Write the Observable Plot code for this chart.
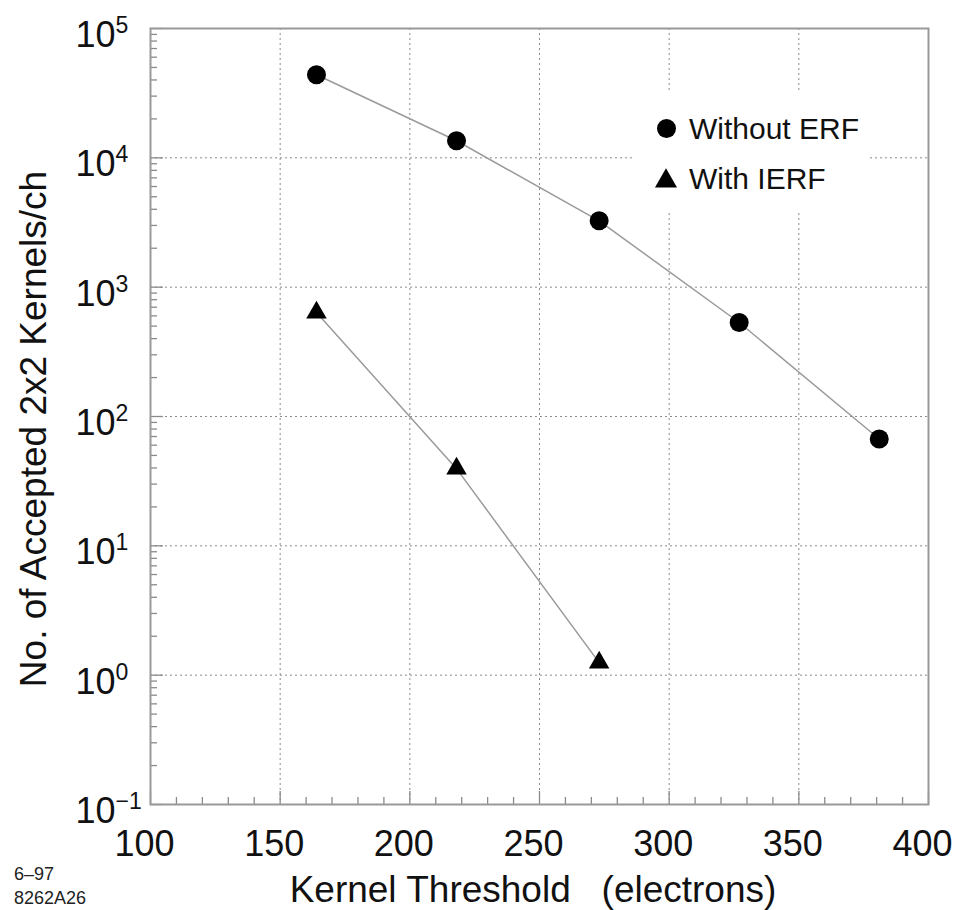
<!DOCTYPE html>
<html>
<head>
<meta charset="utf-8">
<script src="https://cdn.jsdelivr.net/npm/d3@7"></script>
<script src="https://cdn.jsdelivr.net/npm/@observablehq/plot@0.6"></script>
<style>
  html, body { margin: 0; padding: 0; background: #fff; }
  svg text { font-family: "Liberation Sans", Arial, Helvetica, sans-serif; }
</style>
</head>
<body>
<div id="chart"></div>
<script>
// ---- data ----
const thresholdsERF = [164, 218, 273, 327, 381];
const withoutERF = [43900, 13550, 3260, 533, 67];
const thresholdsIERF = [164, 218, 273];
const withIERF = [637, 39.5, 1.25];

const xMajor = [100, 150, 200, 250, 300, 350, 400];
const xMinor = [110,120,130,140,160,170,180,190,210,220,230,240,260,270,280,290,310,320,330,340,360,370,380,390];
const yMajor = [1e-1, 1e0, 1e1, 1e2, 1e3, 1e4, 1e5];
const yMinorMult = [2, 3, 4, 5, 6, 7, 8, 9];
const yMinor = [];
[-1, 0, 1, 2, 3, 4].forEach(k => yMinorMult.forEach(m => yMinor.push(m * Math.pow(10, k))));

const xLabel = "Kernel Threshold\u00a0\u00a0\u00a0(electrons)";
const yLabel = "No. of Accepted 2x2 Kernels/ch";
const legendLabels = ["Without ERF", "With IERF"];
const stampLines = ["6\u201397", "8262A26"];

const erfRows = thresholdsERF.map((t, i) => ({t, n: withoutERF[i]}));
const ierfRows = thresholdsIERF.map((t, i) => ({t, n: withIERF[i]}));

const FONT = '"Liberation Sans", Arial, Helvetica, sans-serif';
const gridStyle = {stroke: "#8a8a8a", strokeOpacity: 1, strokeDasharray: "2,3", strokeWidth: 1};
const tickStyle = {stroke: "#8a8a8a", strokeWidth: 1.3, tickFormat: () => "", label: null};

const svg = Plot.plot({
  width: 958,
  height: 910,
  marginLeft: 150,
  marginRight: 30,
  marginTop: 28,
  marginBottom: 106,
  style: {fontFamily: FONT, background: "#fff", color: "#111"},
  x: {domain: [100, 400], label: null},
  y: {type: "log", domain: [0.1, 1e5], label: null},
  marks: [
    Plot.gridX(xMajor.slice(1, -1), gridStyle),
    Plot.gridY(yMajor.slice(1, -1), gridStyle),
    Plot.axisX(xMinor, {...tickStyle, tickSize: -7}),
    Plot.axisX(xMajor, {...tickStyle, tickSize: -13}),
    Plot.axisX(xMajor, {tickSize: 0, tickPadding: 26, fontSize: 36, dx: -6, label: null, fill: "#111"}),
    Plot.axisY(yMinor, {...tickStyle, tickSize: -7}),
    Plot.axisY(yMajor, {...tickStyle, tickSize: -13}),
    Plot.frame({stroke: "#999", strokeWidth: 2}),
    Plot.line(erfRows, {x: "t", y: "n", stroke: "#9a9a9a", strokeWidth: 1.5}),
    Plot.line(ierfRows, {x: "t", y: "n", stroke: "#9a9a9a", strokeWidth: 1.5}),
    Plot.dot(erfRows, {x: "t", y: "n", symbol: "circle", r: 9.5, fill: "#000"}),
    Plot.dot(ierfRows, {x: "t", y: "n", symbol: "triangle", r: 7.6, fill: "#000"}),
    Plot.text(yMajor, {
      y: d => d,
      text: d => { const e = Math.round(Math.log10(d)); return "10^" + (e < 0 ? "\u2212" + (-e) : e); },
      frameAnchor: "left", textAnchor: "start", dx: -75, dy: 7, fontSize: 36, fill: "#111",
      ariaLabel: "ytick-label"
    })
  ]
});

document.getElementById("chart").appendChild(svg);
const s = d3.select(svg);

// superscript exponents on y tick labels
s.selectAll("text").each(function() {
  const t = this.textContent;
  if (t.startsWith("10^")) {
    const exp = t.slice(3);
    const el = d3.select(this);
    el.text("");
    el.append("tspan").text("10");
    el.append("tspan").attr("dy", -14).attr("font-size", 23).text(exp);
  }
});

// axis titles
s.append("text")
  .attr("x", 533).attr("y", 902)
  .attr("text-anchor", "middle")
  .attr("font-size", 37).attr("fill", "#111")
  .text(xLabel);
s.append("text")
  .attr("transform", "translate(46,429) rotate(-90)")
  .attr("text-anchor", "middle")
  .attr("font-size", 37).attr("fill", "#111")
  .text(yLabel);

// stamp at bottom left
s.append("text").attr("x", 14).attr("y", 880).attr("text-anchor", "start").attr("font-size", 18).attr("fill", "#222").text(stampLines[0]);
s.append("text").attr("x", 14).attr("y", 904).attr("text-anchor", "start").attr("font-size", 18).attr("fill", "#222").text(stampLines[1]);

// legend
const lg = s.append("g");
lg.append("rect").attr("x", 632).attr("y", 92).attr("width", 237).attr("height", 118).attr("fill", "#fff");
lg.append("circle").attr("cx", 666.5).attr("cy", 128.5).attr("r", 9.5).attr("fill", "#000");
lg.append("path")
  .attr("transform", "translate(666,181)")
  .attr("d", d3.symbol(d3.symbolTriangle, Math.PI * 8.2 * 8.2)())
  .attr("fill", "#000");
lg.append("text").attr("x", 689).attr("y", 139).attr("text-anchor", "start").attr("font-size", 30).attr("fill", "#111").text(legendLabels[0]);
lg.append("text").attr("x", 689).attr("y", 189).attr("text-anchor", "start").attr("font-size", 30).attr("fill", "#111").text(legendLabels[1]);
</script>
</body>
</html>
